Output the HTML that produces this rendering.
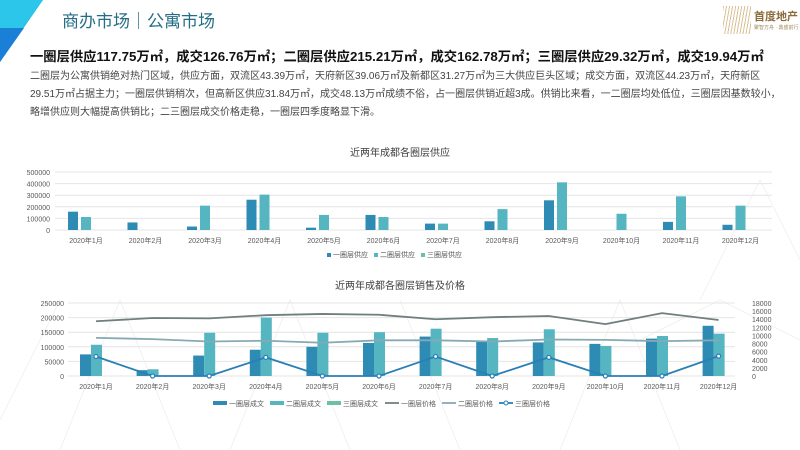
<!DOCTYPE html>
<html><head><meta charset="utf-8"><style>
body{margin:0;width:800px;height:450px;overflow:hidden;background:#fff;font-family:"Liberation Sans","Noto Sans CJK SC",sans-serif;position:relative}
.t{position:absolute;white-space:nowrap}
</style></head><body>
<svg width="800" height="450" style="position:absolute;left:0;top:0" id="s" xmlns="http://www.w3.org/2000/svg" font-family="Liberation Sans, Noto Sans CJK SC, sans-serif">
<g stroke="#ececec" stroke-width="0.7" fill="none">
<path d="M60 450 L120 300 L180 450 M230 450 L290 300 L350 450 M400 300 L460 450 M560 450 L620 300 L680 450 M700 300 L760 180 L800 260 M640 340 L720 300 L800 340 M0 420 L60 300"/>
</g>
<polygon points="0,0 43,0 0,62" fill="#1ec0e8"/>
<polygon points="0,28 24,28 0,62" fill="#1a7fd6"/>
<polygon points="0,0 43,0 22,28 0,28" fill="#2bc6ea"/>
<g id="c"></g>
</svg>
<div class="t" style="left:62px;top:7px;font-size:17px;color:#236e86">商办市场｜公寓市场</div>
<div class="t" style="left:723px;top:6px;width:28px;height:28px;background:repeating-linear-gradient(100deg,#c9a76a 0 1px,transparent 1px 3px);opacity:.7"></div>
<div class="t" style="left:754px;top:8px;font-size:11px;color:#8a6b3a;font-weight:bold">首度地产</div>
<div class="t" style="left:754px;top:24px;font-size:5px;color:#a08a60">聚智方舟 · 鼎盛前行</div>
<div class="t" style="left:30px;top:46px;font-size:13.3px;font-weight:bold;color:#111">一圈层供应117.75万㎡，成交126.76万㎡；二圈层供应215.21万㎡，成交162.78万㎡；三圈层供应29.32万㎡，成交19.94万㎡</div>
<div class="t" style="left:30px;top:68px;font-size:10px;line-height:18px;color:#444">二圈层为公寓供销绝对热门区域，供应方面，双流区43.39万㎡，天府新区39.06万㎡及新都区31.27万㎡为三大供应巨头区域；成交方面，双流区44.23万㎡，天府新区<br>29.51万㎡占据主力；一圈层供销稍次，但高新区供应31.84万㎡，成交48.13万㎡成绩不俗，占一圈层供销近超3成。供销比来看，一二圈层均处低位，三圈层因基数较小，<br>略增供应则大幅提高供销比；二三圈层成交价格走稳，一圈层四季度略显下滑。</div>
<script>
var g=document.getElementById('c'),h='';
function T(x,y,s,sz,a,c){h+='<text x="'+x+'" y="'+y+'" font-size="'+sz+'" text-anchor="'+(a||'middle')+'" fill="'+(c||'#595959')+'">'+s+'</text>';}
var D='#2e8bb3',L='#55b6c2',G='#6cc0a8';
T(400,156,'近两年成都各圈层供应',10,'middle','#404040');
var y0=230,k=58/500000;
for(var i=0;i<=5;i++){var y=y0-i*100000*k;h+='<line x1="55" x2="772" y1="'+y+'" y2="'+y+'" stroke="#e4e4e4"/>';T(50,y+3,i*100000,7,'end');}
var a1=[158000,65000,30000,261000,20000,130000,55000,75000,256000,0,70000,45000],b1=[112000,0,210000,305000,130000,112000,55000,180000,411000,140000,290000,210000];
for(i=0;i<12;i++){var cx=86+i*59.5;
h+='<rect x="'+(cx-18)+'" y="'+(y0-a1[i]*k)+'" width="10" height="'+(a1[i]*k)+'" fill="'+D+'"/>';
h+='<rect x="'+(cx-5)+'" y="'+(y0-b1[i]*k)+'" width="10" height="'+(b1[i]*k)+'" fill="'+L+'"/>';
T(cx,243,'2020年'+(i+1)+'月',7);}
h+='<rect x="327" y="253" width="4" height="4" fill="'+D+'"/>';T(333,257,'一圈层供应',7,'start');
h+='<rect x="374" y="253" width="4" height="4" fill="'+L+'"/>';T(380,257,'二圈层供应',7,'start');
h+='<rect x="421" y="253" width="4" height="4" fill="'+G+'"/>';T(427,257,'三圈层供应',7,'start');
T(400,289,'近两年成都各圈层销售及价格',10,'middle','#404040');
y0=376;k=73/250000;var kr=73/18000;
for(i=0;i<=5;i++){var y=y0-i*50000*k;h+='<line x1="68" x2="735" y1="'+y+'" y2="'+y+'" stroke="#e4e4e4"/>';T(64,y+3,i*50000,7,'end');}
for(i=0;i<=9;i++){T(752,y0-i*2000*kr+3,i*2000,7,'start');}
var a2=[74000,20000,70000,90000,100000,113000,135000,118000,115000,110000,128000,172000],b2=[107000,23000,148000,200000,148000,150000,162000,130000,160000,103000,137000,145000];
var p1=[13500,14300,14200,15000,15300,15100,14000,14500,14800,12800,15500,13800],p2=[9400,9100,8500,8700,8200,8800,8800,8500,9000,8900,8600,8800],p3=[4800,0,0,4600,0,0,4800,0,4600,0,0,4900];
var l1='',l2='',l3='',dots='';
for(i=0;i<12;i++){var cx=96+i*56.6;
h+='<rect x="'+(cx-16)+'" y="'+(y0-a2[i]*k)+'" width="11" height="'+(a2[i]*k)+'" fill="'+D+'"/>';
h+='<rect x="'+(cx-5)+'" y="'+(y0-b2[i]*k)+'" width="11" height="'+(b2[i]*k)+'" fill="'+L+'"/>';
T(cx,389,'2020年'+(i+1)+'月',7);
l1+=(i?'L':'M')+cx+' '+(y0-p1[i]*kr);l2+=(i?'L':'M')+cx+' '+(y0-p2[i]*kr);l3+=(i?'L':'M')+cx+' '+(y0-p3[i]*kr);
dots+='<circle cx="'+cx+'" cy="'+(y0-p3[i]*kr)+'" r="2" fill="#fff" stroke="#2a7fb5" stroke-width="1.2"/>';}
h+='<path d="'+l1+'" fill="none" stroke="#6f7f7f" stroke-width="1.8"/><path d="'+l2+'" fill="none" stroke="#86aab2" stroke-width="1.8"/><path d="'+l3+'" fill="none" stroke="#2a7fb5" stroke-width="1.8"/>'+dots;
var lg=[[213,D,'一圈层成文','r'],[270,L,'二圈层成文','r'],[327,G,'三圈层成文','r'],[385,'#6f7f7f','一圈层价格','l'],[442,'#86aab2','二圈层价格','l'],[499,'#2a7fb5','三圈层价格','d']];
lg.forEach(function(e){if(e[3]=='r')h+='<rect x="'+e[0]+'" y="401" width="14" height="4" fill="'+e[1]+'"/>';else h+='<line x1="'+e[0]+'" x2="'+(e[0]+14)+'" y1="403" y2="403" stroke="'+e[1]+'" stroke-width="1.8"/>';
if(e[3]=='d')h+='<circle cx="'+(e[0]+7)+'" cy="403" r="2" fill="#fff" stroke="'+e[1]+'"/>';T(e[0]+16,406,e[2],7,'start');});
g.innerHTML=h;
</script>
</body></html>
